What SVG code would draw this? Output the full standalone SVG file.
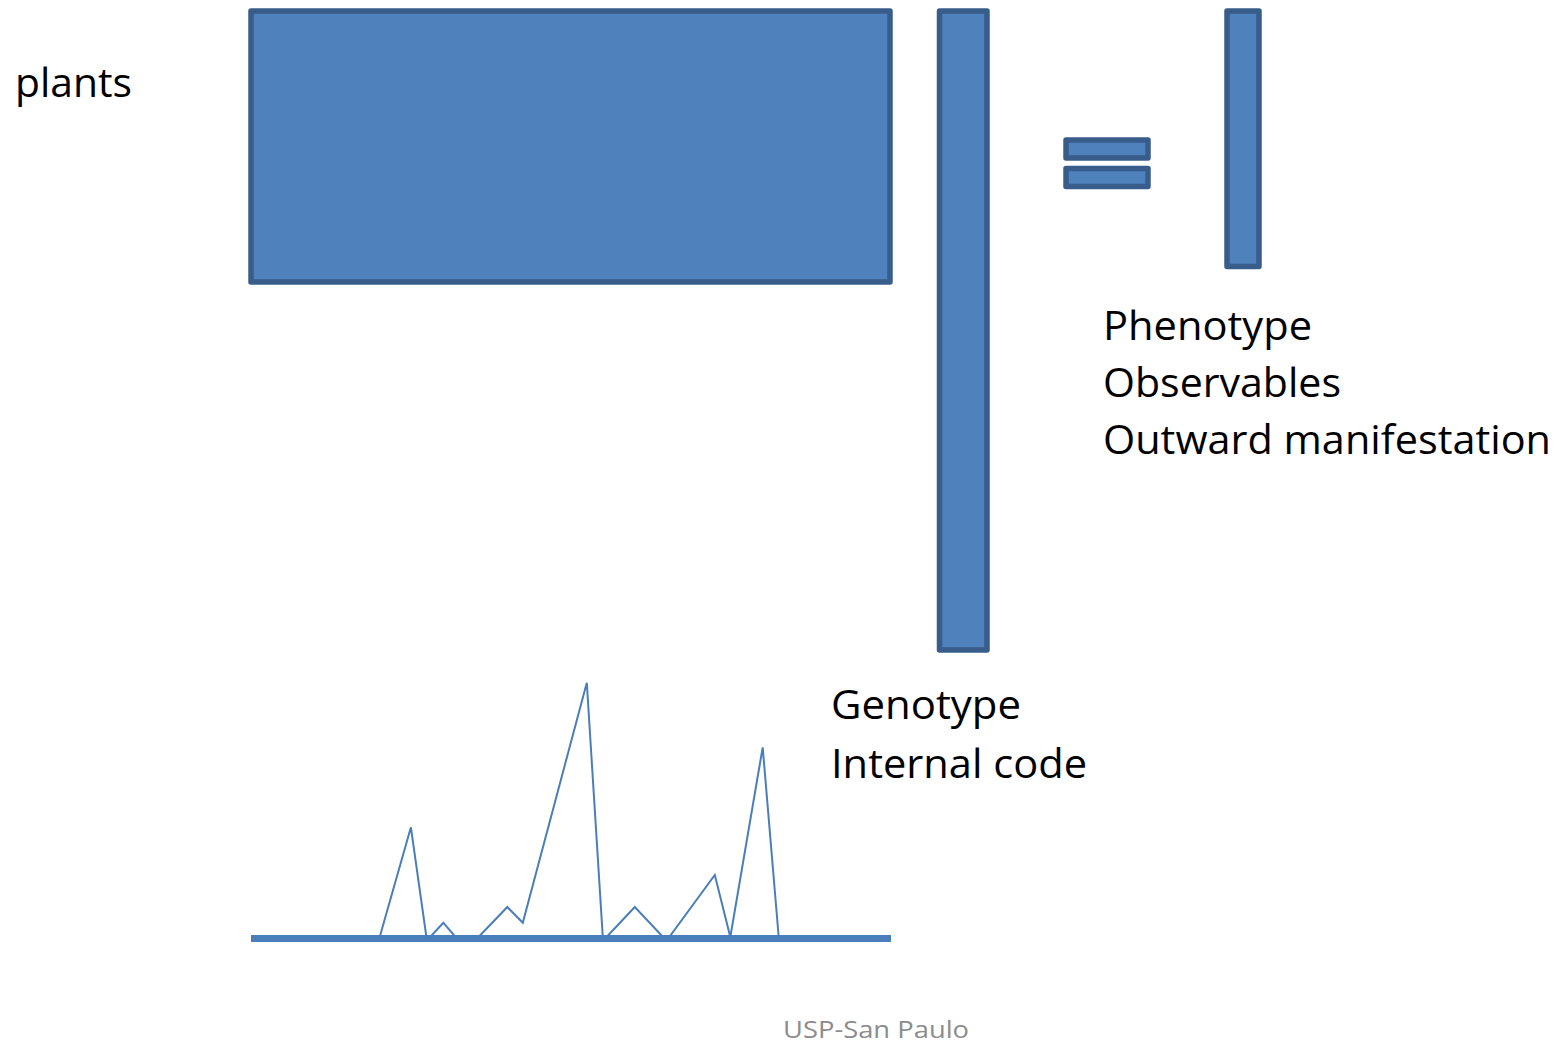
<svg xmlns="http://www.w3.org/2000/svg" width="1558" height="1042" viewBox="0 0 1558 1042">
<style>
.box{fill:#4F81BD;stroke:#385D8A;stroke-width:5.5;stroke-linejoin:round}
.t{font-family:"Open Sans","Liberation Sans",sans-serif;font-size:41px;fill:#000}
.foot{font-family:"Open Sans","Liberation Sans",sans-serif;font-size:23px;fill:#8C8C8C}
.peaks{fill:none;stroke:#4A7EBB;stroke-width:2;stroke-linejoin:miter}
</style>
<rect width="1558" height="1042" fill="#fff"/>
<g id="matrix"><rect class="box" x="251" y="11" width="639" height="271"/></g>
<g id="genotype-bar"><rect class="box" x="939.5" y="11" width="47.5" height="639"/></g>
<g id="equals">
<rect class="box" x="1066" y="140" width="82" height="18"/>
<rect class="box" x="1066" y="168.5" width="82" height="18"/>
</g>
<g id="phenotype-bar"><rect class="box" x="1227" y="11" width="32" height="255.5"/></g>
<g id="spectrum">
<rect x="251" y="935" width="640" height="7" fill="#4A7EBB"/>
<polyline class="peaks" points="379.7,937 410.9,827.3 426.4,937 430.2,937 443.3,922.7 455.5,937 478.6,937 507.3,907 522.8,922.7 586.8,682.7 602.8,937 606.6,937 634.8,907 663,937 669.3,937 714.8,875 730.3,937 762.7,747.3 778.7,937"/>
</g>
<g id="labels">
<text class="t" x="15" y="97" textLength="117" lengthAdjust="spacingAndGlyphs">plants</text>
<text class="t" x="1103" y="340" textLength="209" lengthAdjust="spacingAndGlyphs">Phenotype</text>
<text class="t" x="1103" y="397" textLength="238" lengthAdjust="spacingAndGlyphs">Observables</text>
<text class="t" x="1103" y="454" textLength="448" lengthAdjust="spacingAndGlyphs">Outward manifestation</text>
<text class="t" x="831" y="719" textLength="190" lengthAdjust="spacingAndGlyphs">Genotype</text>
<text class="t" x="831" y="778" textLength="256" lengthAdjust="spacingAndGlyphs">Internal code</text>
<text class="foot" x="783" y="1038" textLength="186" lengthAdjust="spacingAndGlyphs">USP-San Paulo</text>
</g>
</svg>
